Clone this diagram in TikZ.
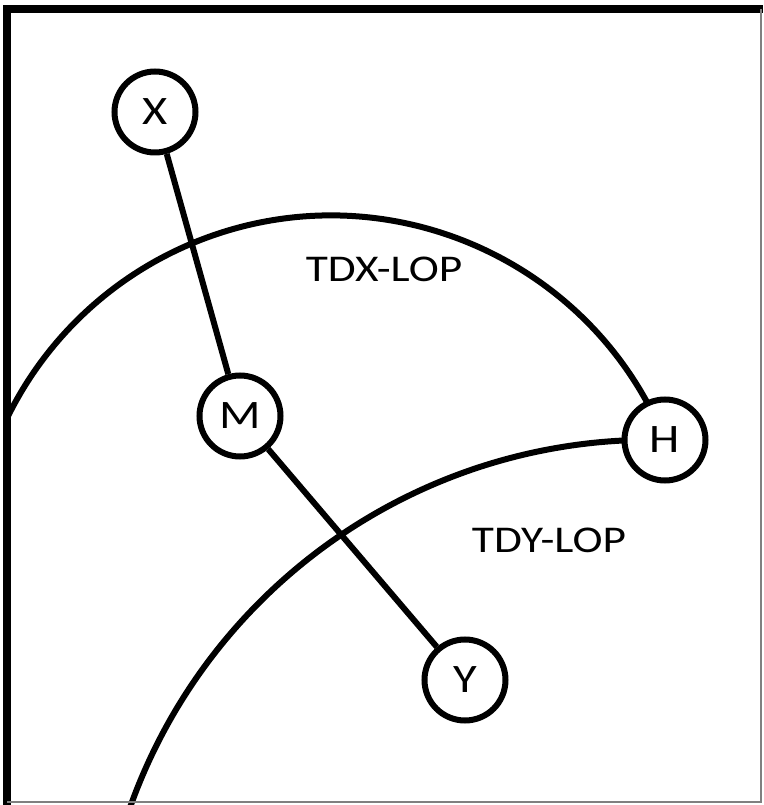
\documentclass[tikz,border=0pt]{standalone}
\usepackage{fontspec}
\setmainfont{Carlito}
\usetikzlibrary{backgrounds}
\newcommand{\wide}[1]{\scalebox{1.2}[1]{#1}}

\begin{document}
\begin{tikzpicture}[line width=0.12cm,
  nd/.style={draw,circle,fill=white,inner sep=0pt,minimum size=1.62cm,font=\fontsize{23}{27}\selectfont},
  every node/.append style={font=\fontsize{21.5}{25}\selectfont}]
\useasboundingbox (0,0) rectangle (15.26,16.10);
\node[nd](X) at (3.10,13.86){\wide{X}};
\node[nd](M) at (4.80,7.78){\wide{M}};
\node[nd](H) at (13.30,7.30){\wide{H}};
\node[nd](Y) at (9.30,2.50){\wide{Y}};
\node[anchor=base](tdx) at (7.68,10.46){\wide{TDX-LOP}};
\node[anchor=base](tdy) at (10.98,5.04){\wide{TDY-LOP}};
\begin{scope}[on background layer={line width=0.12cm}]
\draw (X) -- (M);
\draw (M) -- (Y);
\draw (H.center) arc[start angle=22.16, end angle=153.8, radius=7.21cm];
\draw (H.center) arc[start angle=88.55, end angle=160.3, radius=11.06cm];
\end{scope}
% frame
\draw[line width=0.16cm] (0.14,0) -- (0.14,15.91) -- (15.26,15.91);
\draw[gray, line width=0.03cm] (15.22,15.91) -- (15.22,0.06) -- (0.14,0.06);
\end{tikzpicture}
\end{document}
